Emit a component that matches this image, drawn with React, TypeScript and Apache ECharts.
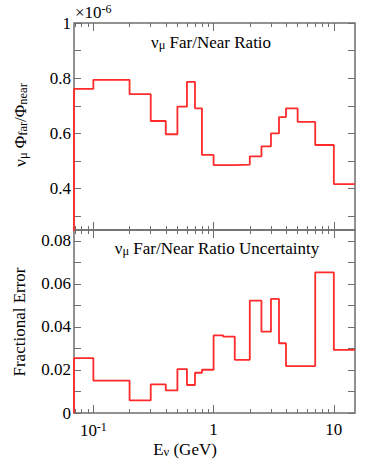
import React, { useEffect, useRef } from "react";
import * as echarts from "echarts";

// Bin edges (GeV)
const EDGES = [0.069, 0.1, 0.2, 0.3, 0.4, 0.5, 0.6, 0.7, 0.8, 1.0, 1.2, 1.5, 2.0, 2.5, 3.0, 3.5, 4.0, 5.0, 7.0, 10, 15];
// Far/Near ratio (x 1e-6)
const RATIO = [0.761, 0.794, 0.742, 0.645, 0.597, 0.697, 0.787, 0.691, 0.522, 0.485, 0.485, 0.487, 0.517, 0.553, 0.600, 0.659, 0.691, 0.642, 0.558, 0.416];
// Fractional error
const FRAC_ERR = [0.0255, 0.0150, 0.0059, 0.0133, 0.0105, 0.0204, 0.0130, 0.0187, 0.0201, 0.0361, 0.0355, 0.0247, 0.0522, 0.0378, 0.0530, 0.0324, 0.0218, 0.0218, 0.0653, 0.0293];

const X_MAJOR = [0.1, 1, 10];
const X_MINOR = [0.07, 0.08, 0.09, 0.2, 0.3, 0.4, 0.5, 0.6, 0.7, 0.8, 0.9, 2, 3, 4, 5, 6, 7, 8, 9];
const Y1_TICKS = [0.3, 0.4, 0.5, 0.6, 0.7, 0.8, 0.9, 1.0];
const Y1_LABELS = [0.4, 0.6, 0.8, 1.0];
const Y2_TICKS = [0, 0.01, 0.02, 0.03, 0.04, 0.05, 0.06, 0.07, 0.08];
const Y2_LABELS = [0, 0.02, 0.04, 0.06, 0.08];

const FONT = "'Liberation Serif', 'Times New Roman', serif";
const GRAY = "#6e6e6e";
const RED = "#ff2a2a";

function stepData(edges: number[], vals: number[]) {
  const d: number[][] = [[edges[0], 0]];
  vals.forEach((v, i) => d.push([edges[i], v]));
  d.push([edges[edges.length - 1], vals[vals.length - 1]]);
  return d;
}

const XMIN = EDGES[0];
const XMAX = EDGES[EDGES.length - 1];

function xAxisDef(gridIndex: number, position: string, values: number[], len: number, labels: boolean): any {
  return {
    type: "log",
    logBase: 10,
    gridIndex,
    position,
    min: XMIN,
    max: XMAX,
    axisLine: { show: false },
    splitLine: { show: false },
    minorTick: { show: false },
    axisTick: { show: true, inside: true, length: len, customValues: values, lineStyle: { color: GRAY, width: 1 } },
    axisLabel: labels
      ? {
          show: true,
          customValues: X_MAJOR,
          margin: 8,
          fontFamily: FONT,
          fontSize: 17,
          color: "#000",
          formatter: (v: number) => {
            const e = Math.round(Math.log10(v));
            if (e === 0) return "1";
            if (e === 1) return "10";
            return "10{sup|" + e + "}";
          },
          rich: {
            sup: { fontFamily: FONT, fontSize: 12, color: "#000", verticalAlign: "top", padding: [0, 0, 6, 0] },
          },
        }
      : { show: false },
  };
}

function yAxisDef(gridIndex: number, position: string, min: number, max: number, ticks: number[], labels: number[] | null, fmt?: (v: number) => string): any {
  return {
    type: "value",
    gridIndex,
    position,
    min,
    max,
    axisLine: { show: false },
    splitLine: { show: false },
    axisTick: { show: true, inside: true, length: 7, customValues: ticks, lineStyle: { color: GRAY, width: 1 } },
    axisLabel: labels
      ? { show: true, customValues: labels, margin: 3, fontFamily: FONT, fontSize: 17, color: "#000", formatter: fmt }
      : { show: false },
  };
}

export default function App() {
  const ref = useRef<HTMLDivElement>(null);
  useEffect(() => {
    if (!ref.current) return;
    const chart = echarts.init(ref.current, null, { renderer: "svg" });
    const richBase = {
      sub: { fontFamily: FONT, fontSize: 12.5, fill: "#000", verticalAlign: "bottom", padding: [6, 0, 0, 0] },
    };
    chart.setOption({
      animation: false,
      backgroundColor: "#fff",
      grid: [
        { left: 74, top: 23, width: 281, height: 207, show: true, borderColor: GRAY, borderWidth: 1.5, backgroundColor: "transparent" },
        { left: 74, top: 230, width: 281, height: 183, show: true, borderColor: GRAY, borderWidth: 1.5, backgroundColor: "transparent" },
      ],
      xAxis: [
        xAxisDef(0, "bottom", X_MAJOR, 8, false),
        xAxisDef(0, "bottom", X_MINOR, 4, false),
        xAxisDef(0, "top", X_MAJOR, 8, false),
        xAxisDef(0, "top", X_MINOR, 4, false),
        xAxisDef(1, "bottom", X_MAJOR, 8, true),
        xAxisDef(1, "bottom", X_MINOR, 4, false),
        xAxisDef(1, "top", X_MAJOR, 8, false),
        xAxisDef(1, "top", X_MINOR, 4, false),
      ],
      yAxis: [
        yAxisDef(0, "left", 0.25, 1.0, Y1_TICKS, Y1_LABELS, (v: number) => (Math.abs(v - 1) < 1e-9 ? "1" : v.toFixed(1))),
        yAxisDef(0, "right", 0.25, 1.0, Y1_TICKS, null),
        yAxisDef(1, "left", 0, 0.085, Y2_TICKS, Y2_LABELS, (v: number) => (Math.abs(v) < 1e-12 ? "0" : v.toFixed(2))),
        yAxisDef(1, "right", 0, 0.085, Y2_TICKS, null),
      ],
      series: [
        {
          type: "line",
          xAxisIndex: 0,
          yAxisIndex: 0,
          step: "end",
          symbol: "none",
          clip: true,
          data: stepData(EDGES, RATIO),
          lineStyle: { color: RED, width: 1.8 },
          z: 5,
        },
        {
          type: "line",
          xAxisIndex: 4,
          yAxisIndex: 2,
          step: "end",
          symbol: "none",
          clip: true,
          data: stepData(EDGES, FRAC_ERR),
          lineStyle: { color: RED, width: 1.8 },
          z: 5,
        },
      ],
      graphic: [
        {
          type: "text",
          x: 75,
          y: 3,
          style: {
            text: "×10{sup|-6}",
            fontFamily: FONT,
            fontSize: 17,
            fill: "#000",
            rich: { sup: { fontFamily: FONT, fontSize: 12, fill: "#000", verticalAlign: "top", padding: [0, 0, 6, 0] } },
          },
        },
        {
          type: "text",
          x: 211,
          y: 42,
          style: {
            text: "ν{sub|μ} Far/Near Ratio",
            fontFamily: FONT,
            fontSize: 17,
            fill: "#000",
            align: "center",
            verticalAlign: "middle",
            rich: richBase,
          },
        },
        {
          type: "text",
          x: 217,
          y: 248,
          style: {
            text: "ν{sub|μ} Far/Near Ratio Uncertainty",
            fontFamily: FONT,
            fontSize: 17,
            fill: "#000",
            align: "center",
            verticalAlign: "middle",
            rich: richBase,
          },
        },
        {
          type: "text",
          x: 20,
          y: 125,
          rotation: Math.PI / 2,
          style: {
            text: "ν{sub|μ} Φ{sub|far}/Φ{sub|near}",
            fontFamily: FONT,
            fontSize: 17,
            fill: "#000",
            align: "center",
            verticalAlign: "middle",
            rich: richBase,
          },
        },
        {
          type: "text",
          x: 19,
          y: 322,
          rotation: Math.PI / 2,
          style: {
            text: "Fractional Error",
            fontFamily: FONT,
            fontSize: 17,
            fill: "#000",
            align: "center",
            verticalAlign: "middle",
          },
        },
        {
          type: "text",
          x: 185,
          y: 449,
          style: {
            text: "E{sub|ν} (GeV)",
            fontFamily: FONT,
            fontSize: 17,
            fill: "#000",
            align: "center",
            verticalAlign: "middle",
            rich: richBase,
          },
        },
      ],
    });
    return () => chart.dispose();
  }, []);
  return <div ref={ref} style={{ position: "fixed", left: 0, top: 0, width: 374, height: 460 }} />;
}
